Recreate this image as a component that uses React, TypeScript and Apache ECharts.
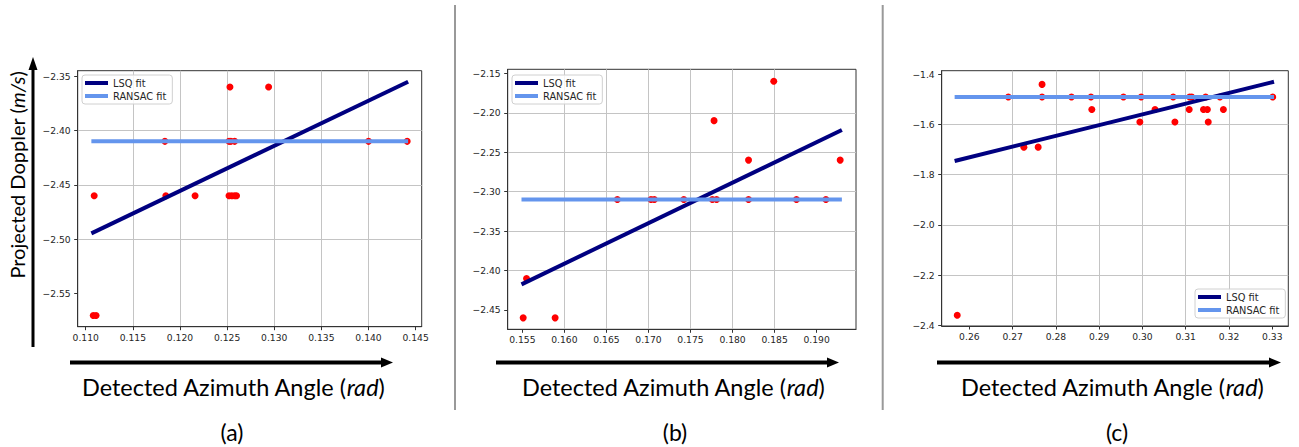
import React, { useEffect, useRef } from "react";
import * as echarts from "echarts";

// ---------- Panel (a) ----------
const aPointX = [0.1109, 0.1108, 0.1111, 0.1184, 0.1185, 0.1216, 0.1253, 0.1294, 0.1252, 0.1254, 0.1258, 0.1252, 0.1255, 0.1258, 0.1260, 0.1400, 0.1441];
const aPointY = [-2.46, -2.57, -2.57, -2.41, -2.46, -2.46, -2.36, -2.36, -2.41, -2.41, -2.41, -2.46, -2.46, -2.46, -2.46, -2.41, -2.41];
const aFitX = [0.1106, 0.1442];
const aLsqY = [-2.4946, -2.3552];
const aRansacY = [-2.41, -2.41];
const aXTicks = [0.110, 0.115, 0.120, 0.125, 0.130, 0.135, 0.140, 0.145];
const aYTicks = [-2.55, -2.50, -2.45, -2.40, -2.35];
const aXRange = [0.10915, 0.14564];
const aYRange = [-2.5803, -2.3451];

// ---------- Panel (b) ----------
const bPointX = [0.1551, 0.1555, 0.1589, 0.1663, 0.1703, 0.1707, 0.1742, 0.1776, 0.1781, 0.1778, 0.1819, 0.1819, 0.1849, 0.1876, 0.1911, 0.1928];
const bPointY = [-2.46, -2.41, -2.46, -2.31, -2.31, -2.31, -2.31, -2.31, -2.31, -2.21, -2.26, -2.31, -2.16, -2.31, -2.31, -2.26];
const bFitX = [0.1549, 0.1930];
const bLsqY = [-2.4175, -2.2218];
const bRansacY = [-2.31, -2.31];
const bXTicks = [0.155, 0.160, 0.165, 0.170, 0.175, 0.180, 0.185, 0.190];
const bYTicks = [-2.45, -2.40, -2.35, -2.30, -2.25, -2.20, -2.15];
const bXRange = [0.15326, 0.19468];
const bYRange = [-2.4745, -2.1449];

// ---------- Panel (c) ----------
const cPointX = [0.2572, 0.2690, 0.2726, 0.2759, 0.2768, 0.2768, 0.2836, 0.2881, 0.2883, 0.2956, 0.2994, 0.2997, 0.3029, 0.3071, 0.3075, 0.3108, 0.3109, 0.3114, 0.3141, 0.3146, 0.3150, 0.3152, 0.3179, 0.3187, 0.3301];
const cPointY = [-2.36, -1.49, -1.69, -1.69, -1.44, -1.49, -1.49, -1.49, -1.54, -1.49, -1.59, -1.49, -1.54, -1.49, -1.59, -1.54, -1.49, -1.49, -1.54, -1.49, -1.54, -1.59, -1.49, -1.54, -1.49];
const cFitX = [0.2566, 0.3304];
const cLsqY = [-1.7453, -1.4292];
const cRansacY = [-1.49, -1.49];
const cXTicks = [0.26, 0.27, 0.28, 0.29, 0.30, 0.31, 0.32, 0.33];
const cYTicks = [-2.4, -2.2, -2.0, -1.8, -1.6, -1.4];
const cXRange = [0.25361, 0.3337];
const cYRange = [-2.4027, -1.3854];

const seriesNames = ["LSQ fit", "RANSAC fit"];
const panelLabels = ["(a)", "(b)", "(c)"];
const xTitle = "Detected Azimuth Angle (";
const xTitleUnit = "rad";
const yTitle = "Projected Doppler (";
const yTitleUnit = "m/s";

const zip = (xs: number[], ys: number[]) => xs.map((x, i) => [x, ys[i]]);
const fmt = (dp: number) => (v: number) => v.toFixed(dp).replace("-", "\u2212");

const TICK_FONT = "DejaVu Sans";
const TEXT_FONT = "Lato";

function makeAxis(idx: number, type: "x" | "y", range: number[], ticks: number[], dp: number) {
  return {
    type: "value",
    gridIndex: idx,
    min: range[0],
    max: range[1],
    position: type === "x" ? "bottom" : "left",
    axisLine: { show: true, onZero: false, lineStyle: { color: "#333", width: 1 } },
    axisTick: { show: true, length: 3.5, lineStyle: { color: "#333", width: 1 }, customValues: ticks },
    axisLabel: {
      show: true,
      customValues: ticks,
      formatter: fmt(dp),
      fontFamily: TICK_FONT,
      fontSize: 9.2,
      color: "#262626",
      margin: type === "x" ? 6 : 7,
      showMinLabel: true,
      showMaxLabel: true,
    },
    splitLine: { show: true, showMinLine: false, showMaxLine: false, lineStyle: { color: "#c4c4c4", width: 1 } },
  };
}

const panels = [
  { px: aPointX, py: aPointY, fx: aFitX, lsq: aLsqY, ran: aRansacY, xt: aXTicks, yt: aYTicks, xr: aXRange, yr: aYRange, xdp: 3, ydp: 2 },
  { px: bPointX, py: bPointY, fx: bFitX, lsq: bLsqY, ran: bRansacY, xt: bXTicks, yt: bYTicks, xr: bXRange, yr: bYRange, xdp: 3, ydp: 2 },
  { px: cPointX, py: cPointY, fx: cFitX, lsq: cLsqY, ran: cRansacY, xt: cXTicks, yt: cYTicks, xr: cXRange, yr: cYRange, xdp: 2, ydp: 1 },
];

export default function App() {
  const ref = useRef<HTMLDivElement>(null);
  useEffect(() => {
    if (!ref.current) return;
    const chart = echarts.init(ref.current, null, { renderer: "svg" });

    const grids = [
      { left: 77.7, top: 70.7, width: 344, height: 256 },
      { left: 507.7, top: 69.3, width: 348.3, height: 260 },
      { left: 941.7, top: 70.7, width: 346.6, height: 255.3 },
    ].map((g) => ({ ...g, show: true, borderColor: "#333", borderWidth: 1, backgroundColor: "transparent", containLabel: false }));

    const xAxes = panels.map((p, i) => makeAxis(i, "x", p.xr, p.xt, p.xdp));
    const yAxes = panels.map((p, i) => makeAxis(i, "y", p.yr, p.yt, p.ydp));

    const series: any[] = [];
    panels.forEach((p, i) => {
      series.push({
        type: "scatter",
        name: "points",
        xAxisIndex: i,
        yAxisIndex: i,
        data: zip(p.px, p.py),
        symbol: "circle",
        symbolSize: 7,
        itemStyle: { color: "#ff0000", opacity: 1 },
        silent: true,
        z: 2,
      });
      series.push({
        type: "line",
        name: seriesNames[0],
        xAxisIndex: i,
        yAxisIndex: i,
        data: zip(p.fx, p.lsq),
        color: "#000080",
        symbol: "none",
        lineStyle: { color: "#000080", width: 4, cap: "butt" },
        silent: true,
        z: 3,
      });
      series.push({
        type: "line",
        name: seriesNames[1],
        xAxisIndex: i,
        yAxisIndex: i,
        data: zip(p.fx, p.ran),
        color: "#6495ED",
        symbol: "none",
        lineStyle: { color: "#6495ED", width: 4, cap: "butt" },
        silent: true,
        z: 4,
      });
    });

    const legendBase = {
      data: seriesNames,
      orient: "vertical",
      icon: "rect",
      itemWidth: 23,
      itemHeight: 4,
      itemGap: 3,
      padding: [3, 6, 3, 3],
      selectedMode: false,
      backgroundColor: "rgba(255,255,255,0.85)",
      borderColor: "#d0d0d0",
      borderWidth: 1,
      borderRadius: 3,
      textStyle: { fontFamily: TICK_FONT, fontSize: 9.8, color: "#262626" },
    };
    const legends = [
      { ...legendBase, left: 82, top: 75 },
      { ...legendBase, left: 512, top: 75 },
      { ...legendBase, left: 1195, top: 289 },
    ];

    const richFor = (size: number) => ({
      n: { fontFamily: TEXT_FONT, fontSize: size, fill: "#000" },
      i: { fontFamily: TEXT_FONT, fontSize: size, fontStyle: "italic", fill: "#000" },
    });

    const graphics: any[] = [];
    // separators
    [455, 882.7].forEach((x) => {
      graphics.push({ type: "line", shape: { x1: x, y1: 5, x2: x, y2: 410 }, style: { stroke: "#999", lineWidth: 2 }, silent: true });
    });
    // y arrow
    graphics.push({ type: "line", shape: { x1: 33, y1: 347, x2: 33, y2: 68 }, style: { stroke: "#000", lineWidth: 3 }, silent: true });
    graphics.push({ type: "polygon", shape: { points: [[28.5, 70], [37.5, 70], [33, 57]] }, style: { fill: "#000" }, silent: true });
    // y title
    graphics.push({
      type: "text",
      x: 17,
      y: 175,
      rotation: Math.PI / 2,
      style: {
        text: "{n|" + yTitle + "}{i|" + yTitleUnit + "}{n|)}",
        rich: richFor(20),
        align: "center",
        verticalAlign: "middle",
      },
      silent: true,
    });
    // x arrows, titles and panel letters
    const arrows = [
      [70, 393],
      [496, 839],
      [937, 1281],
    ];
    const titleCenters = [233, 673, 1112];
    const letterCenters = [232, 675, 1117];
    arrows.forEach(([x1, x2], i) => {
      graphics.push({ type: "line", shape: { x1, y1: 362.5, x2: x2 - 10, y2: 362.5 }, style: { stroke: "#000", lineWidth: 4 }, silent: true });
      graphics.push({ type: "polygon", shape: { points: [[x2 - 12, 357.5], [x2 - 12, 367.5], [x2, 362.5]] }, style: { fill: "#000" }, silent: true });
      graphics.push({
        type: "text",
        x: titleCenters[i],
        y: 387,
        style: {
          text: "{n|" + xTitle + "}{i|" + xTitleUnit + "}{n|)}",
          rich: richFor(23.5),
          align: "center",
          verticalAlign: "middle",
        },
        silent: true,
      });
      graphics.push({
        type: "text",
        x: letterCenters[i],
        y: 432,
        style: { text: panelLabels[i], fontFamily: TEXT_FONT, fontSize: 23, fill: "#000", align: "center", verticalAlign: "middle" },
        silent: true,
      });
    });

    chart.setOption({
      animation: false,
      backgroundColor: "#fff",
      grid: grids,
      xAxis: xAxes,
      yAxis: yAxes,
      legend: legends,
      series,
      graphic: graphics,
    });
    return () => chart.dispose();
  }, []);
  return <div ref={ref} style={{ position: "absolute", left: 0, top: 0, width: 1299, height: 447 }} />;
}
